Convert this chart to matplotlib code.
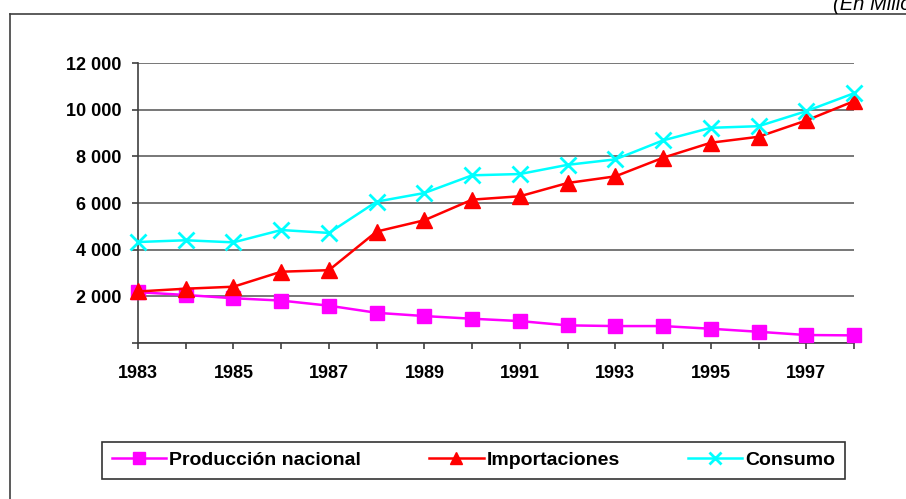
import numpy as np
import matplotlib.pyplot as plt
from matplotlib.lines import Line2D
from matplotlib.ticker import FuncFormatter

plt.rcParams['font.family'] = ['Liberation Sans', 'DejaVu Sans']

years = np.arange(1983, 1999)
produccion = [2170, 2050, 1910, 1810, 1590, 1285, 1145, 1030, 930, 745,
              715, 715, 600, 470, 330, 315]
importaciones = [2200, 2320, 2405, 3050, 3115, 4775, 5260, 6145, 6290, 6860,
                 7145, 7945, 8590, 8845, 9545, 10375]
consumo = [4325, 4400, 4310, 4840, 4715, 6060, 6430, 7190, 7245, 7640,
           7875, 8690, 9230, 9300, 9945, 10715]
labels = ['Producción nacional', 'Importaciones', 'Consumo']

fig = plt.figure(figsize=(9.06, 4.99), dpi=100)
ax = fig.add_axes([0.1523, 0.3132, 0.7903, 0.5599])

ax.plot(years, produccion, color='#ff00ff', lw=1.8, marker='s', ms=10,
        clip_on=False, zorder=3, label=labels[0])
ax.plot(years, importaciones, color='#ff0000', lw=1.8, marker='^', ms=11,
        clip_on=False, zorder=3, label=labels[1])
ax.plot(years, consumo, color='#00ffff', lw=1.8, marker='x', ms=11, mew=2,
        clip_on=False, zorder=4, label=labels[2])

ax.set_xlim(1983, 1998)
ax.set_ylim(0, 12000)
ax.set_yticks(np.arange(0, 12001, 2000))
ax.yaxis.set_major_formatter(FuncFormatter(
    lambda v, p: '' if v == 0 else f'{int(v):,}'.replace(',', ' ')))
ax.set_xticks(np.arange(1983, 1999, 2))
ax.set_xticks(np.arange(1983, 1999), minor=True)
ax.grid(axis='y', color='#606060', lw=1.2)
ax.set_axisbelow(True)

for s in ['top', 'right']:
    ax.spines[s].set_visible(False)
for s in ['left', 'bottom']:
    ax.spines[s].set_color('#404040')
    ax.spines[s].set_linewidth(1.2)

ax.tick_params(axis='y', length=4, width=1.2, color='#404040', pad=8,
               labelsize=13)
ax.tick_params(axis='x', which='both', length=4, width=1.2, color='#404040',
               pad=12, labelsize=13)
for t in ax.get_xticklabels() + ax.get_yticklabels():
    t.set_fontweight('bold')

leg = fig.legend(loc='center', bbox_to_anchor=(0.5226, 0.0772), ncol=3,
                 frameon=True, fancybox=False, edgecolor='black',
                 handlelength=2.8, handletextpad=0.15, columnspacing=3.5,
                 prop={'weight': 'bold', 'size': 14}, borderpad=0.5)
leg.get_frame().set_linewidth(1.2)
for h in leg.legend_handles:
    h.set_markersize(8)

# outer frame
fig.add_artist(Line2D([10 / 906, 10 / 906], [0, 1 - 14 / 499],
                      transform=fig.transFigure, color='#404040', lw=1.2))
fig.add_artist(Line2D([10 / 906, 1], [1 - 14 / 499, 1 - 14 / 499],
                      transform=fig.transFigure, color='#404040', lw=1.2))

fig.text(833 / 906, 1 - 4 / 499, '(En Millones de dólares)', style='italic',
         fontsize=14.5, ha='left', va='center')

fig.savefig('out.png', dpi=100)
